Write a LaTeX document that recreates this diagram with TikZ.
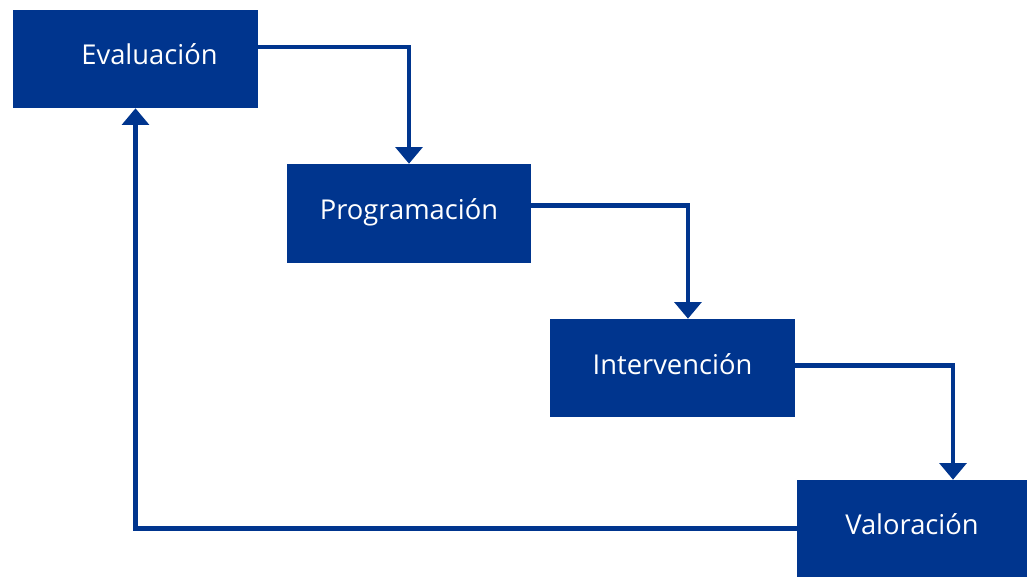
\documentclass[tikz,border=0pt]{standalone}
\usepackage{fontspec}
\setmainfont{Open Sans}
\usepackage{tikz}
\usetikzlibrary{arrows.meta}
\definecolor{azul}{HTML}{00358E}

\begin{document}
\begin{tikzpicture}[x=0.75pt, y=-0.75pt, box/.style = {fill=azul, text=white, inner sep=0pt, text height=14pt, text depth=5pt, font=\fontsize{20.5}{24}\selectfont}, flow/.style = {draw=azul, line width=3.7pt, -{Triangle[length=12.5pt, width=20pt]}}]
        \useasboundingbox (0,0) rectangle (1027,577);
        \node[box, minimum width=183.75pt, minimum height=73.5pt] (1) at (135.5,59) {\hspace{21pt}Evaluación};
        \node[box, minimum width=183pt, minimum height=74.25pt] (2) at (409,213.5) {Programación};
        \node[box, minimum width=183.75pt, minimum height=73.5pt] (3) at (672.5,368) {Intervención};
        \node[box, minimum width=172.5pt, minimum height=72.75pt] (4) at (912,528.5) {Valoración};
        \draw[flow] ([yshift=9pt]1.east) -| (2.north);
        \draw[flow] ([yshift=6pt]2.east) -| ([xshift=11.6pt]3.north);
        \draw[flow] ([yshift=2.2pt]3.east) -| ([xshift=30.75pt]4.north);
        \draw[flow] (4.west) -| (1.south);
    \end{tikzpicture}
\end{document}
